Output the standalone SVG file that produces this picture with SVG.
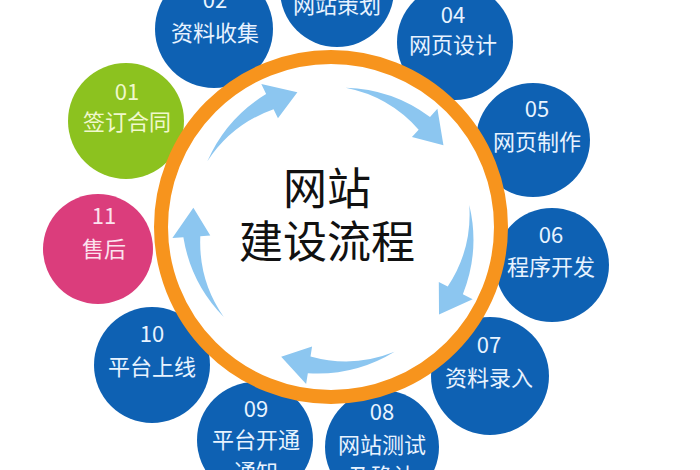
<svg xmlns="http://www.w3.org/2000/svg" xmlns:xlink="http://www.w3.org/1999/xlink" width="700" height="470" viewBox="0 0 700 470">
<style>
.blue{fill:#0e61b3}
.green{fill:#8cc21f}
.pink{fill:#db3d7c}
.lbl{font-family:"Noto Sans CJK SC","Noto Sans",sans-serif;font-size:22px;text-anchor:middle;fill:#e8f3ff}
.lg{fill:#f0f8cc}
.lp{fill:#fbe3ee}
.center{font-family:"Noto Sans CJK SC","Noto Sans",sans-serif;font-size:44px;text-anchor:middle;fill:#111}
.arr{fill:#8cc6f0}
</style>
<defs>
<path id="arr" class="arr" d="M140,0 A148,148 0 0 1 119.73,86.99 L128.63,93.46 L93.00,103.29 L97.89,71.12 L105.98,77.00 A131,131 0 0 0 140,0 Z"/>
</defs>
<rect width="700" height="470" fill="#ffffff"/>
<g id="n02"><circle class="blue" cx="214" cy="29" r="59"/><text class="lbl" x="215" y="8">02</text><text class="lbl" x="215" y="41">资料收集</text></g>
<g id="n03"><circle class="blue" cx="337" cy="-10" r="57"/><text class="lbl" x="337" y="13">网站策划</text></g>
<g id="n04"><circle class="blue" cx="455" cy="42" r="58"/><text class="lbl" x="453" y="23">04</text><text class="lbl" x="453" y="53">网页设计</text></g>
<g id="n05"><circle class="blue" cx="533" cy="140" r="57"/><text class="lbl" x="537" y="117">05</text><text class="lbl" x="537" y="150">网页制作</text></g>
<g id="n06"><circle class="blue" cx="552" cy="265" r="57"/><text class="lbl" x="551" y="243">06</text><text class="lbl" x="551" y="275">程序开发</text></g>
<g id="n07"><circle class="blue" cx="490" cy="376" r="59"/><text class="lbl" x="489" y="353">07</text><text class="lbl" x="489" y="386">资料录入</text></g>
<g id="n08"><circle class="blue" cx="382" cy="447" r="57"/><text class="lbl" x="382" y="420">08</text><text class="lbl" x="382" y="453">网站测试</text><text class="lbl" x="382" y="484">及确认</text></g>
<g id="n09"><circle class="blue" cx="255" cy="440" r="58"/><text class="lbl" x="256" y="417">09</text><text class="lbl" x="256" y="448">平台开通</text><text class="lbl" x="256" y="480">通知</text></g>
<g id="n10"><circle class="blue" cx="152" cy="365" r="58"/><text class="lbl" x="152" y="342">10</text><text class="lbl" x="152" y="375">平台上线</text></g>
<g id="n11"><circle class="pink" cx="98" cy="249" r="55"/><text class="lbl lp" x="104" y="224">11</text><text class="lbl lp" x="104" y="257">售后</text></g>
<g id="n01"><circle class="green" cx="126" cy="121" r="58"/><text class="lbl lg" x="127" y="100">01</text><text class="lbl lg" x="127" y="130">签订合同</text></g>
<g id="hub">
<circle cx="331" cy="227" r="170" fill="#ffffff" stroke="#f7941d" stroke-width="14"/>
<text class="center" x="327" y="205">网站</text>
<text class="center" x="327" y="258">建设流程</text>
</g>
<g id="connectors" transform="translate(331,227)">
<use xlink:href="#arr" transform="rotate(-152)"/>
<use xlink:href="#arr" transform="rotate(-84)"/>
<use xlink:href="#arr" transform="rotate(-9)"/>
<use xlink:href="#arr" transform="rotate(63)"/>
<use xlink:href="#arr" transform="rotate(140)"/>
</g>
</svg>
